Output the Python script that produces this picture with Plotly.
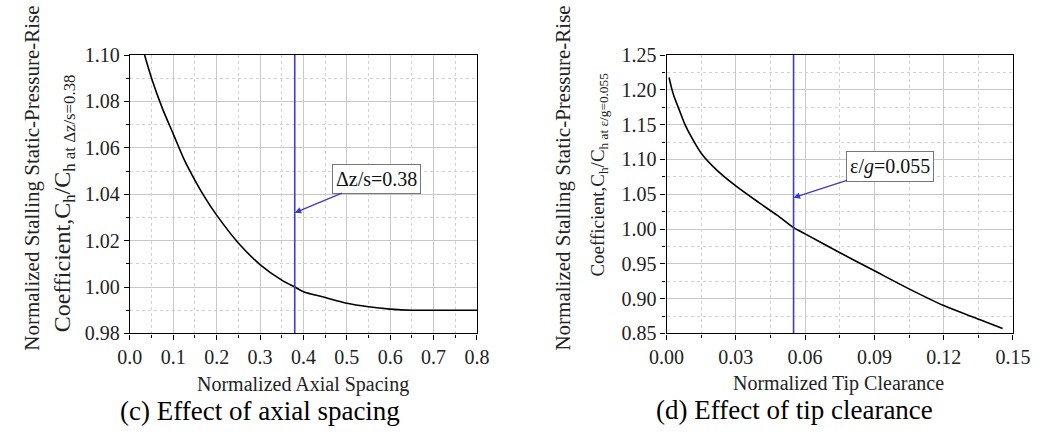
import plotly.graph_objects as go

# ---- data ----
axial_x = [0.034, 0.05, 0.075, 0.1, 0.125, 0.15, 0.175, 0.2, 0.25, 0.3, 0.35, 0.38,
           0.4, 0.45, 0.5, 0.55, 0.6, 0.65, 0.7, 0.8]
axial_y = [1.100, 1.090, 1.077, 1.066, 1.055, 1.046, 1.038, 1.031, 1.019, 1.0097, 1.003, 1.000,
           0.998, 0.9955, 0.9930, 0.9915, 0.9905, 0.9900, 0.990, 0.990]
tip_x = [0.0011, 0.002, 0.0032, 0.0053, 0.008, 0.0108, 0.015, 0.022, 0.03, 0.04, 0.048, 0.055,
         0.06, 0.0745, 0.09, 0.105, 0.12, 0.1355, 0.1455]
tip_y = [1.2176, 1.205, 1.191, 1.173, 1.150, 1.132, 1.109, 1.084, 1.062, 1.038, 1.0195, 1.002,
         0.993, 0.967, 0.940, 0.914, 0.890, 0.870, 0.857]
axial_ref = 0.38
tip_ref = 0.055
axial_xticks = [0.0, 0.1, 0.2, 0.3, 0.4, 0.5, 0.6, 0.7, 0.8]
axial_yticks = [0.98, 1.00, 1.02, 1.04, 1.06, 1.08, 1.10]
tip_xticks = [0.00, 0.03, 0.06, 0.09, 0.12, 0.15]
tip_yticks = [0.85, 0.90, 0.95, 1.00, 1.05, 1.10, 1.15, 1.20, 1.25]

FONT = "Liberation Serif, Times New Roman, serif"
BLUE = "#3c3cc4"
W, H = 1060, 443

def px2dom_x(p):
    return p / W

def px2dom_y(p):
    return 1 - p / H

dom_l_x = [px2dom_x(116.7), px2dom_x(475.7)]
dom_r_x = [px2dom_x(671.7), px2dom_x(1030)]
dom_y = [px2dom_y(339.3), px2dom_y(46.3)]

fig = go.Figure()

fig.add_trace(go.Scatter(x=axial_x, y=axial_y, mode="lines",
                         line=dict(color="black", width=1.6, shape="spline", smoothing=0.8),
                         xaxis="x", yaxis="y", showlegend=False))
fig.add_trace(go.Scatter(x=[axial_ref, axial_ref], y=[0.98, 1.10], mode="lines",
                         line=dict(color=BLUE, width=1.6), xaxis="x", yaxis="y", showlegend=False))
fig.add_trace(go.Scatter(x=tip_x, y=tip_y, mode="lines",
                         line=dict(color="black", width=1.6, shape="spline", smoothing=0.8),
                         xaxis="x2", yaxis="y2", showlegend=False))
fig.add_trace(go.Scatter(x=[tip_ref, tip_ref], y=[0.85, 1.25], mode="lines",
                         line=dict(color=BLUE, width=1.6), xaxis="x2", yaxis="y2", showlegend=False))

tickfont = dict(family=FONT, size=20, color="#222")
grid_major = "#c8c8c8"
grid_minor = "#d2d2d2"

def main_axis(dom, rng, ticks, dtick_minor, anchor, fmt):
    return dict(domain=dom, range=rng, tickvals=ticks, tickformat=fmt, anchor=anchor,
                showline=True, linecolor="black", linewidth=1.2, mirror=True,
                ticks="outside", ticklen=5, tickwidth=1.2, tickcolor="black",
                tickfont=tickfont, showgrid=True, gridcolor=grid_major, gridwidth=1, zeroline=False,
                minor=dict(dtick=dtick_minor, showgrid=True, griddash="dot", gridcolor=grid_minor,
                           ticks="outside", ticklen=3, tickcolor="black"))

fig.update_layout(
    width=W, height=H, margin=dict(l=0, r=0, t=0, b=0),
    paper_bgcolor="white", plot_bgcolor="white",
    xaxis=main_axis(dom_l_x, [0, 0.8], axial_xticks, 0.05, "y", ".1f"),
    yaxis=main_axis(dom_y, [0.98, 1.10], axial_yticks, 0.01, "x", ".2f"),
    xaxis2=main_axis(dom_r_x, [0, 0.15], tip_xticks, 0.015, "y2", ".2f"),
    yaxis2=main_axis(dom_y, [0.85, 1.25], tip_yticks, 0.025, "x2", ".2f"),
)

def paper_text(xp, yp, text, size, angle=0, color="#222"):
    return dict(x=xp / W, y=px2dom_y(yp), xref="paper", yref="paper", xanchor="center", yanchor="middle",
                text=text, showarrow=False, textangle=angle, font=dict(family=FONT, size=size, color=color))

ann = []
# boxes with arrows pointing at the reference lines
ann.append(dict(x=axial_ref, y=1.032, ax=0.569, ay=1.0467, xref="x", yref="y", axref="x", ayref="y",
                text="Δz/s=0.38", showarrow=True, arrowhead=2, arrowsize=1, arrowwidth=1.3, arrowcolor=BLUE,
                standoff=0, startstandoff=0,
                font=dict(family=FONT, size=20, color="#111"), bgcolor="white",
                bordercolor="#777", borderwidth=1, borderpad=3))
ann.append(dict(x=tip_ref, y=1.045, ax=0.0969, ay=1.0904, xref="x2", yref="y2", axref="x2", ayref="y2",
                text="ε/<i>g</i>=0.055", showarrow=True, arrowhead=2, arrowsize=1, arrowwidth=1.3,
                arrowcolor=BLUE, standoff=0, startstandoff=0,
                font=dict(family=FONT, size=20, color="#111"), bgcolor="white",
                bordercolor="#777", borderwidth=1, borderpad=3))
# x titles
ann.append(paper_text(296, 393, "Normalized Axial Spacing", 20))
ann.append(paper_text(850, 392, "Normalized Tip Clearance", 20))
# captions
ann.append(paper_text(251, 421, "(c) Effect of axial spacing", 27, color="black"))
ann.append(paper_text(804, 420, "(d) Effect of tip clearance", 27, color="black"))
# y titles
ann.append(paper_text(16, 176, "Normalized Stalling Static-Pressure-Rise", 21, angle=-90))
ann.append(paper_text(49, 202, "Coefficient,C<sub>h</sub>/C<sub>h at Δz/s=0.38</sub>", 24, angle=-90))
ann.append(paper_text(565, 176, "Normalized Stalling Static-Pressure-Rise", 21, angle=-90))
ann.append(paper_text(602, 172, "Coefficient,C<sub>h</sub>/C<sub>h at ε/g=0.055</sub>", 19, angle=-90))
fig.update_layout(annotations=ann)

fig.write_html("out.html")
